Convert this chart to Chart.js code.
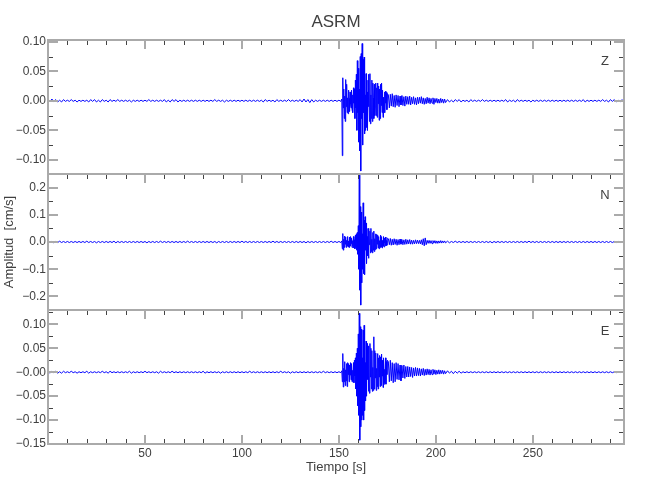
<!DOCTYPE html>
<html><head><meta charset="utf-8">
<script src="https://cdn.jsdelivr.net/npm/chart.js@4.4.1/dist/chart.umd.min.js"></script>
<style>
html,body{margin:0;padding:0;background:#fff;}
#wrap{position:relative;width:650px;height:500px;}
#wrap canvas{position:absolute;left:0;top:0;}
</style></head><body>
<div id="wrap">
<canvas id="cZ" width="650" height="500"></canvas>
<canvas id="cN" width="650" height="500"></canvas>
<canvas id="cE" width="650" height="500"></canvas>
</div>
<script>
// ---- sample times (s) ----
const timePre = [0,1,2,3,4,5,6,7,8,9,10,11,12,13,14,15,16,17,18,19,
20,21,22,23,24,25,26,27,28,29,30,31,32,33,34,35,36,37,38,39,
40,41,42,43,44,45,46,47,48,49,50,51,52,53,54,55,56,57,58,59,
60,61,62,63,64,65,66,67,68,69,70,71,72,73,74,75,76,77,78,79,
80,81,82,83,84,85,86,87,88,89,90,91,92,93,94,95,96,97,98,99,
100,101,102,103,104,105,106,107,108,109,110,111,112,113,114,115,116,117,118,119,
120,121,122,123,124,125,126,127,128,129,130,131,132,133,134,135,136,137,138,139,
140,141,142,143,144,145,146,147,148,149,150,151];
const timeStrong = [151.5,151.75,152,152.25,152.5,152.75,153,153.25,153.5,153.75,
154,154.25,154.5,154.75,155,155.25,155.5,155.75,156,156.25,
156.5,156.75,157,157.25,157.5,157.75,158,158.25,158.5,158.75,
159,159.25,159.5,159.75,160,160.25,160.5,160.75,161,161.25,
161.5,161.75,162,162.25,162.5,162.75,163,163.25,163.5,163.75,
164,164.25,164.5,164.75,165,165.25,165.5,165.75,166,166.25,
166.5,166.75,167,167.25,167.5,167.75,168,168.25,168.5,168.75,
169,169.25,169.5,169.75,170,170.25,170.5,170.75,171,171.25,
171.5,171.75,172,172.25,172.5,172.75,173,173.25,173.5,173.75,
174,174.25,174.5,174.75,175];
const timeCoda = [175.5,176,176.5,177,177.5,178,178.5,179,179.5,180,
180.5,181,181.5,182,182.5,183,183.5,184,184.5,185,
185.5,186,186.5,187,187.5,188,188.5,189,189.5,190,
190.5,191,191.5,192,192.5,193,193.5,194,194.5,195,
195.5,196,196.5,197,197.5,198,198.5,199,199.5,200,
200.5,201,201.5,202,202.5,203,203.5,204,204.5,205];
const timePost = [206,207,208,209,210,211,212,213,214,215,216,217,218,219,220,221,222,223,224,225,
226,227,228,229,230,231,232,233,234,235,236,237,238,239,240,241,242,243,244,245,
246,247,248,249,250,251,252,253,254,255,256,257,258,259,260,261,262,263,264,265,
266,267,268,269,270,271,272,273,274,275,276,277,278,279,280,281,282,283,284,285,
286,287,288,289,290,291,292,293,294,295,296,297];

// ---- Z component (cm/s) ----
const zPre = [0.002,-0.002,0.003,-0.001,0.002,-0.002,0.001,-0.002,0.002,-0.001,
0.001,-0.001,0.002,-0.001,0.001,-0.002,0.001,-0.001,0.001,-0.001,
0.001,-0.002,0.002,-0.001,0.002,-0.002,0.001,-0.002,0.002,-0.001,
0.001,-0.002,0.002,-0.001,0.001,-0.001,0.002,-0.001,0.001,-0.001,
0.001,-0.001,0.001,-0.002,0.001,-0.001,0.001,-0.001,0.001,-0.001,
0.001,-0.001,0.002,-0.001,0.001,-0.001,0.001,-0.001,0.001,-0.001,
0.002,-0.002,0.001,-0.002,0.002,-0.001,0.002,-0.002,0.001,-0.001,
0.001,-0.001,0.001,-0.001,0.001,-0.001,0.001,-0.001,0.001,-0.001,
0.001,-0.001,0.001,-0.001,0.001,-0.001,0.002,-0.001,0.001,-0.001,
0.001,-0.002,0.001,-0.001,0.001,-0.001,0.001,-0.001,0.001,-0.001,
0.001,-0.001,0.001,-0.001,0.001,-0.001,0.001,-0.001,0.001,-0.001,
0.001,-0.002,0.002,-0.001,0.001,-0.001,0.001,-0.002,0.002,-0.001,
0.001,-0.001,0.001,-0.001,0.002,-0.001,0.001,-0.001,0.001,-0.001,
0.002,-0.002,0.003,-0.002,0.002,-0.003,0.002,-0.002,0.001,-0.001,
0.001,-0.001,0.001,-0.001,0.001,-0.001,0.001,-0.001,0.001,-0.001,
0.001,-0.001];
const zStrong = [0.003,-0.093,0.039,-0.012,0.02,-0.03,0.008,-0.035,0.036,-0.01,
0.028,-0.02,0.005,-0.022,0.018,0.004,-0.018,0.015,-0.006,-0.012,
0.018,-0.015,0.01,-0.02,0.022,-0.004,0.02,-0.03,0.035,-0.012,
0.045,-0.05,0.068,-0.02,0.055,-0.07,0.02,-0.085,0.075,-0.119,
0.08,-0.03,0.097,-0.075,0.07,-0.02,0.074,-0.056,0.01,-0.05,
0.046,-0.045,0.015,-0.05,0.035,-0.01,0.045,-0.035,0.046,-0.039,
0.01,-0.03,0.035,-0.035,0.03,0.005,-0.03,0.028,-0.025,-0.01,
0.03,-0.025,0.022,-0.028,0.03,-0.005,0.025,-0.033,0.02,-0.03,
0.028,-0.008,0.03,-0.02,0.018,-0.028,0.006,-0.015,0.015,-0.02,
0.016,-0.004,0.014,-0.015,0.012];
const zCoda = [0.01,-0.012,0.011,-0.009,0.012,-0.01,0.009,-0.011,0.01,-0.008,
0.009,-0.01,0.008,-0.007,0.009,-0.008,0.007,-0.009,0.008,-0.006,
0.007,-0.006,0.008,-0.007,0.006,-0.005,0.007,-0.006,0.005,-0.007,
0.006,-0.005,0.006,-0.004,0.007,-0.005,0.005,-0.006,0.004,-0.005,
0.006,-0.004,0.005,-0.005,0.004,-0.004,0.005,-0.006,0.004,-0.003,
0.004,-0.004,0.003,-0.004,0.004,-0.003,0.003,-0.004,0.003,-0.003];
const zPost = [0.002,-0.002,0.001,-0.002,0.002,-0.001,0.002,-0.002,0.001,-0.001,
0.001,-0.002,0.002,-0.001,0.001,-0.001,0.001,-0.001,0.002,-0.001,
0.001,-0.001,0.001,-0.001,0.001,-0.001,0.001,-0.001,0.001,-0.001,
0.002,-0.002,0.001,-0.001,0.001,-0.002,0.002,-0.001,0.001,-0.001,
0.001,-0.001,0.001,-0.002,0.001,-0.001,0.001,-0.001,0.001,-0.001,
0.001,-0.001,0.001,-0.001,0.001,-0.001,0.001,-0.001,0.001,-0.001,
0.001,-0.001,0.001,-0.001,0.001,-0.001,0.001,-0.001,0.001,-0.001,
0.002,-0.002,0.001,-0.001,0.001,-0.001,0.001,-0.001,0.001,-0.001,
0.002,-0.001,0.001,-0.002,0.002,-0.001,0.002,-0.002,0.001,-0.002,
0.002,-0.002];

// ---- N component (cm/s) ----
const nPre = [0.003,-0.002,0.002,-0.003,0.002,-0.002,0.003,-0.002,0.002,-0.002,
0.002,-0.002,0.002,-0.002,0.002,-0.002,0.002,-0.002,0.002,-0.002,
0.003,-0.002,0.002,-0.002,0.002,-0.003,0.002,-0.002,0.002,-0.002,
0.002,-0.002,0.002,-0.002,0.003,-0.003,0.002,-0.002,0.002,-0.002,
0.002,-0.002,0.002,-0.002,0.002,-0.002,0.002,-0.002,0.002,-0.002,
0.002,-0.003,0.002,-0.002,0.002,-0.002,0.002,-0.002,0.003,-0.002,
0.002,-0.002,0.002,-0.002,0.002,-0.002,0.002,-0.002,0.002,-0.002,
0.002,-0.002,0.003,-0.002,0.002,-0.002,0.002,-0.002,0.002,-0.002,
0.002,-0.002,0.002,-0.002,0.002,-0.002,0.002,-0.003,0.002,-0.002,
0.002,-0.002,0.002,-0.002,0.002,-0.002,0.002,-0.002,0.002,-0.002,
0.003,-0.002,0.002,-0.002,0.002,-0.002,0.002,-0.002,0.002,-0.002,
0.002,-0.002,0.002,-0.002,0.002,-0.002,0.003,-0.002,0.002,-0.002,
0.002,-0.002,0.002,-0.002,0.002,-0.002,0.002,-0.002,0.002,-0.002,
0.002,-0.002,0.002,-0.003,0.002,-0.002,0.002,-0.002,0.002,-0.002,
0.002,-0.002,0.002,-0.002,0.002,-0.002,0.003,-0.002,0.002,-0.002,
0.002,-0.002];
const nStrong = [0.004,-0.025,0.031,-0.03,0.01,-0.02,0.022,-0.008,0.018,-0.02,
0.006,-0.015,0.02,-0.018,0.004,-0.02,0.018,-0.015,0.02,-0.006,
0.015,-0.02,0.005,-0.015,0.02,-0.022,0.008,-0.025,0.025,-0.02,
0.03,-0.03,0.035,-0.045,0.06,-0.1,0.246,-0.177,0.13,-0.232,
0.11,-0.15,0.03,-0.1,0.144,-0.116,0.08,-0.12,0.093,-0.03,
0.07,-0.079,0.02,-0.05,0.05,-0.06,0.045,-0.01,0.04,-0.04,
0.05,-0.035,0.01,-0.04,0.035,-0.03,0.04,-0.035,0.012,-0.028,
0.03,-0.025,0.028,-0.008,0.025,-0.022,0.02,-0.025,0.005,-0.02,
0.025,-0.018,0.02,-0.022,0.006,-0.015,0.02,-0.018,0.015,-0.004,
0.018,-0.014,0.005,-0.012,0.014];
const nCoda = [0.012,-0.01,0.013,-0.012,0.01,-0.011,0.012,-0.009,0.01,-0.012,
0.009,-0.01,0.011,-0.008,0.009,-0.01,0.008,-0.009,0.01,-0.008,
0.008,-0.007,0.009,-0.008,0.007,-0.008,0.006,-0.007,0.008,-0.006,
0.007,-0.006,0.006,-0.007,0.008,-0.01,0.012,-0.014,0.015,-0.01,
0.006,-0.005,0.006,-0.005,0.005,-0.006,0.005,-0.004,0.005,-0.005,
0.004,-0.005,0.004,-0.004,0.005,-0.004,0.004,-0.003,0.004,-0.003];
const nPost = [0.003,-0.003,0.002,-0.002,0.003,-0.002,0.002,-0.002,0.002,-0.002,
0.002,-0.002,0.002,-0.002,0.002,-0.002,0.002,-0.002,0.002,-0.002,
0.002,-0.002,0.002,-0.003,0.002,-0.002,0.002,-0.002,0.002,-0.002,
0.002,-0.002,0.002,-0.002,0.002,-0.002,0.002,-0.002,0.002,-0.002,
0.002,-0.002,0.003,-0.002,0.002,-0.002,0.002,-0.002,0.002,-0.002,
0.002,-0.002,0.002,-0.002,0.002,-0.002,0.002,-0.002,0.002,-0.002,
0.002,-0.002,0.002,-0.002,0.002,-0.002,0.002,-0.002,0.002,-0.002,
0.002,-0.002,0.002,-0.002,0.002,-0.002,0.002,-0.002,0.002,-0.002,
0.002,-0.002,0.002,-0.002,0.002,-0.002,0.002,-0.002,0.002,-0.002,
0.002,-0.002];

// ---- E component (cm/s) ----
const ePre = [0.002,-0.002,0.002,-0.001,0.002,-0.002,0.001,-0.002,0.002,-0.001,
0.001,-0.001,0.002,-0.001,0.001,-0.002,0.001,-0.001,0.001,-0.001,
0.002,-0.002,0.001,-0.001,0.001,-0.001,0.001,-0.001,0.002,-0.001,
0.001,-0.002,0.002,-0.001,0.001,-0.001,0.001,-0.001,0.001,-0.001,
0.001,-0.001,0.002,-0.002,0.001,-0.001,0.001,-0.001,0.001,-0.001,
0.002,-0.001,0.001,-0.001,0.001,-0.001,0.001,-0.002,0.002,-0.001,
0.001,-0.001,0.001,-0.001,0.002,-0.001,0.001,-0.001,0.001,-0.001,
0.001,-0.001,0.001,-0.001,0.001,-0.001,0.001,-0.001,0.001,-0.001,
0.002,-0.002,0.001,-0.001,0.001,-0.001,0.001,-0.001,0.001,-0.002,
0.001,-0.001,0.001,-0.001,0.001,-0.001,0.001,-0.001,0.001,-0.001,
0.001,-0.001,0.001,-0.001,0.002,-0.001,0.001,-0.001,0.001,-0.001,
0.001,-0.001,0.001,-0.001,0.001,-0.001,0.001,-0.001,0.001,-0.001,
0.002,-0.001,0.001,-0.001,0.001,-0.002,0.001,-0.001,0.001,-0.001,
0.001,-0.001,0.001,-0.001,0.001,-0.001,0.001,-0.001,0.001,-0.001,
0.001,-0.001,0.002,-0.001,0.001,-0.001,0.001,-0.001,0.001,-0.001,
0.001,-0.001];
const eStrong = [0.003,-0.02,0.039,-0.031,0.008,-0.02,0.022,-0.028,0.005,-0.018,
0.018,-0.03,0.02,-0.005,0.018,-0.02,0.015,-0.006,0.02,-0.016,
0.018,-0.02,0.004,-0.018,0.02,-0.022,0.025,-0.008,0.03,-0.035,
0.04,-0.05,0.05,-0.07,0.08,-0.09,0.123,-0.142,0.095,-0.114,
0.09,-0.1,0.03,-0.09,0.088,-0.1,0.098,-0.08,0.02,-0.06,
0.065,-0.05,0.06,-0.015,0.055,-0.04,0.05,-0.044,0.06,-0.01,
0.05,-0.035,0.045,-0.04,0.01,-0.038,0.074,-0.035,0.045,-0.012,
0.04,-0.038,0.008,-0.03,0.039,-0.035,0.03,-0.01,0.035,-0.03,
0.032,-0.028,0.038,-0.008,0.025,-0.032,0.03,-0.025,0.006,-0.022,
0.03,-0.025,0.022,-0.005,0.025];
const eCoda = [0.022,-0.02,0.025,-0.018,0.02,-0.022,0.018,-0.02,0.02,-0.015,
0.018,-0.016,0.015,-0.018,0.014,-0.012,0.015,-0.013,0.012,-0.01,
0.012,-0.01,0.011,-0.009,0.01,-0.011,0.009,-0.008,0.01,-0.008,
0.009,-0.007,0.008,-0.008,0.007,-0.006,0.008,-0.007,0.006,-0.006,
0.007,-0.005,0.006,-0.006,0.005,-0.005,0.006,-0.004,0.005,-0.005,
0.004,-0.004,0.005,-0.004,0.004,-0.003,0.004,-0.004,0.003,-0.003];
const ePost = [0.003,-0.002,0.002,-0.003,0.002,-0.002,0.002,-0.002,0.001,-0.001,
0.001,-0.001,0.001,-0.001,0.001,-0.001,0.001,-0.001,0.001,-0.001,
0.001,-0.001,0.001,-0.001,0.001,-0.001,0.001,-0.001,0.001,-0.001,
0.001,-0.001,0.001,-0.001,0.001,-0.001,0.001,-0.001,0.001,-0.001,
0.001,-0.001,0.001,-0.001,0.001,-0.001,0.001,-0.001,0.001,-0.001,
0.001,-0.001,0.001,-0.001,0.001,-0.001,0.001,-0.001,0.001,-0.001,
0.001,-0.001,0.001,-0.001,0.001,-0.001,0.001,-0.001,0.001,-0.001,
0.001,-0.001,0.001,-0.001,0.001,-0.001,0.001,-0.001,0.001,-0.001,
0.001,-0.001,0.001,-0.001,0.001,-0.001,0.001,-0.001,0.001,-0.001,
0.001,-0.001];

// ---- axes: ticks and labels ----
const channelNames = ['Z','N','E'];
const xMajorTicks = [50,100,150,200,250];
const xMinorTicks = [10,20,30,40,60,70,80,90,110,120,130,140,160,170,180,190,210,220,230,240,260,270,280,290];
const zTicks = [0.10,0.05,0,-0.05,-0.10];
const zTickLabels = ['0.10','0.05','0.00','\u22120.05','\u22120.10'];
const zMinor = [0.075,0.025,-0.025,-0.075];
const nTicks = [0.2,0.1,0,-0.1,-0.2];
const nTickLabels = ['0.2','0.1','0.0','\u22120.1','\u22120.2'];
const nMinor = [0.25,0.15,0.05,-0.05,-0.15,-0.25];
const eTicks = [0.10,0.05,0,-0.05,-0.10,-0.15];
const eTickLabels = ['0.10','0.05','\u22120.00','\u22120.05','\u22120.10','\u22120.15'];
const eMinor = [0.125,0.075,0.025,-0.025,-0.075,-0.125];

const time = timePre.concat(timeStrong, timeCoda, timePost);
const zValues = zPre.concat(zStrong, zCoda, zPost);
const nValues = nPre.concat(nStrong, nCoda, nPost);
const eValues = ePre.concat(eStrong, eCoda, ePost);

const FONT = '"Liberation Sans", Arial, sans-serif';
const TXT = '#404040';
const AXIS = '#aaaaaa';
Chart.defaults.font.family = FONT;
Chart.defaults.color = TXT;

const framePlugin = {
  id: 'frame',
  afterDatasetsDraw(chart, args, o) {
    const {ctx, chartArea: a, scales: {x, y}} = chart;
    const seg = (x1, y1, x2, y2) => { ctx.beginPath(); ctx.moveTo(x1, y1); ctx.lineTo(x2, y2); ctx.stroke(); };
    ctx.save();
    ctx.strokeStyle = '#444'; ctx.lineWidth = 1;
    xMinorTicks.forEach(v => {
      const px = Math.round(x.getPixelForValue(v)) + 0.5;
      seg(px, a.top, px, a.top + 5);
      if (o.bottomTicks) seg(px, a.bottom, px, a.bottom - 5);
    });
    o.yMinor.forEach(v => {
      const py = Math.round(y.getPixelForValue(v)) + 0.5;
      seg(a.left, py, a.left + 5, py);
      seg(a.right, py, a.right - 5, py);
    });
    ctx.strokeStyle = AXIS; ctx.lineWidth = 2;
    xMajorTicks.forEach(v => {
      const px = Math.round(x.getPixelForValue(v));
      seg(px, a.top, px, a.top + 9);
      if (o.bottomTicks) seg(px, a.bottom, px, a.bottom - 9);
    });
    o.yMajor.forEach(v => {
      const py = Math.round(y.getPixelForValue(v));
      seg(a.left, py, a.left + 10, py);
      seg(a.right, py, a.right - 10, py);
    });
    ctx.strokeRect(a.left, a.top, a.right - a.left, a.bottom - a.top);
    ctx.fillStyle = TXT;
    ctx.font = '13px ' + FONT;
    ctx.textAlign = 'center';
    ctx.textBaseline = 'middle';
    ctx.fillText(o.label, a.right - 19, a.top + 21);
    ctx.restore();
  }
};

function buildChart(id, cfg) {
  const pts = time.map((t, i) => ({x: t, y: cfg.values[i]}));
  return new Chart(document.getElementById(id), {
    type: 'line',
    data: {datasets: [{data: pts, borderColor: '#0000ff', borderWidth: 1, pointRadius: 0, tension: 0, fill: false}]},
    options: {
      responsive: false, animation: false, parsing: false, normalized: true,
      layout: {padding: {top: cfg.padTop, bottom: cfg.padBottom, left: 0, right: 26}},
      plugins: {
        legend: {display: false}, tooltip: {enabled: false},
        title: {display: !!cfg.title, text: cfg.title || '', fullSize: false,
          font: {size: 17, weight: 'normal'}, color: TXT, padding: {top: 12, bottom: 7.6}},
        frame: {yMajor: cfg.ticks, yMinor: cfg.minor, label: cfg.label, bottomTicks: cfg.showX}
      },
      scales: {
        x: {type: 'linear', min: 0, max: 297, display: cfg.showX,
          grid: {display: false, drawTicks: false}, border: {display: false},
          afterBuildTicks: s => { s.ticks = xMajorTicks.map(v => ({value: v})); },
          afterFit: s => { if (cfg.showX) s.height = 56; },
          ticks: {font: {size: 12}, color: TXT, padding: 2, maxRotation: 0, autoSkip: false, callback: v => String(v)},
          title: {display: cfg.showX, text: 'Tiempo [s]', font: {size: 13}, color: TXT, padding: {top: 0, bottom: 25}}},
        y: {type: 'linear', min: cfg.min, max: cfg.max,
          grid: {display: false, drawTicks: false}, border: {display: false},
          afterBuildTicks: s => { s.ticks = cfg.ticks.map(v => ({value: v})); },
          afterFit: s => { s.width = 48; },
          ticks: {font: {size: 12}, color: TXT, padding: 2, autoSkip: false, callback: (v, i) => cfg.labels[i]},
          title: {display: !!cfg.yTitle, text: cfg.yTitle || '', font: {size: 13}, color: TXT, padding: {top: 2, bottom: 0}}}
      }
    },
    plugins: [framePlugin]
  });
}

buildChart('cZ', {values: zValues, min: -0.124, max: 0.103, ticks: zTicks, labels: zTickLabels, minor: zMinor,
  label: channelNames[0], title: 'ASRM', padTop: 0, padBottom: 326, showX: false});
buildChart('cN', {values: nValues, min: -0.25, max: 0.25, ticks: nTicks, labels: nTickLabels, minor: nMinor,
  label: channelNames[1], yTitle: 'Amplitud  [cm/s]', padTop: 174, padBottom: 190, showX: false});
buildChart('cE', {values: eValues, min: -0.15, max: 0.13, ticks: eTicks, labels: eTickLabels, minor: eMinor,
  label: channelNames[2], padTop: 310, padBottom: 0, showX: true});
</script>
</body></html>
